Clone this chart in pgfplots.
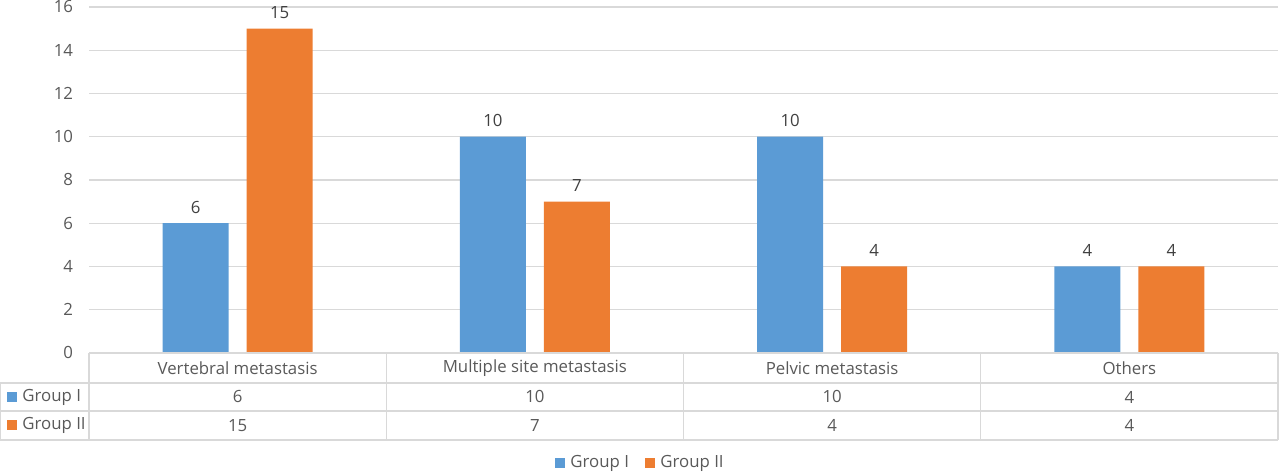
\documentclass[border=0pt]{standalone}
\usepackage{pgfplots}
\pgfplotsset{compat=1.18}
\usepackage{fontspec}
\setmainfont{Open Sans}
\definecolor{gIblue}{HTML}{5B9BD5}
\definecolor{gIIorange}{HTML}{ED7D31}
\definecolor{gridgray}{HTML}{D9D9D9}
\definecolor{txtgray}{HTML}{595959}
\newcommand{\chartfont}{\fontsize{8.4}{10}\selectfont}
\begin{document}
\begin{tikzpicture}
\chartfont
% bounding box: 1280x474 px at 0.5pt per px, axis origin at px (89,353)
\useasboundingbox (-44.5pt,-60.5pt) rectangle (595.5pt,176.5pt);
\begin{axis}[
    scale only axis,
    width=594.5pt, height=173pt,
    ymin=0, ymax=16, ytick={0,2,...,16},
    xmin=-0.5, xmax=3.5,
    xtick=\empty,
    axis line style={draw=none},
    ymajorgrids, grid style={gridgray, line width=0.6pt},
    major tick length=0pt,
    ybar=9pt, bar width=33pt,
    yticklabel style={font=\chartfont, text=txtgray, xshift=-5pt},
    /pgf/number format/assume math mode=true,
    nodes near coords,
    every node near coord/.append style={font=\chartfont, text=black!75, yshift=2pt},
    clip=false,
  ]
  \addplot[fill=gIblue, draw=none] coordinates {(0,6) (1,10) (2,10) (3,4)};
  \addplot[fill=gIIorange, draw=none] coordinates {(0,15) (1,7) (2,4) (3,4)};
\end{axis}
% data table
\begin{scope}[gridgray, line width=0.6pt]
  \draw (0pt,0pt) -- (594.5pt,0pt);
  \draw (-44.5pt,-15pt) -- (594.5pt,-15pt);
  \draw (-44.5pt,-29pt) -- (594.5pt,-29pt);
  \draw (-44.5pt,-43.5pt) -- (594.5pt,-43.5pt);
  \draw (-44.5pt,-15pt) -- (-44.5pt,-43.5pt);
  \foreach \xx in {0,148.625,297.25,445.875,594.5}
    \draw (\xx pt,0pt) -- (\xx pt,-43.5pt);
\end{scope}
\begin{scope}[text=txtgray, inner sep=0pt]
  \foreach \name [count=\i from 0] in {Vertebral metastasis,Multiple site metastasis,Pelvic metastasis,Others}
    \node at ({74.3125pt+\i*148.625pt},-7.5pt) {\name};
  \foreach \v [count=\i from 0] in {6,10,10,4}
    \node at ({74.3125pt+\i*148.625pt},-22pt) {\v};
  \foreach \v [count=\i from 0] in {15,7,4,4}
    \node at ({74.3125pt+\i*148.625pt},-36.25pt) {\v};
  \fill[gIblue] (-41pt,-24.5pt) rectangle (-36pt,-19.5pt);
  \node[anchor=west] at (-33.5pt,-22pt) {Group I};
  \fill[gIIorange] (-41pt,-38.75pt) rectangle (-36pt,-33.75pt);
  \node[anchor=west] at (-33.5pt,-36.25pt) {Group II};
  % legend
  \fill[gIblue] (233pt,-57.5pt) rectangle (238pt,-52.5pt);
  \node[anchor=west] at (240.5pt,-55pt) {Group I};
  \fill[gIIorange] (278pt,-57.5pt) rectangle (283pt,-52.5pt);
  \node[anchor=west] at (285.5pt,-55pt) {Group II};
\end{scope}
\end{tikzpicture}
\end{document}
